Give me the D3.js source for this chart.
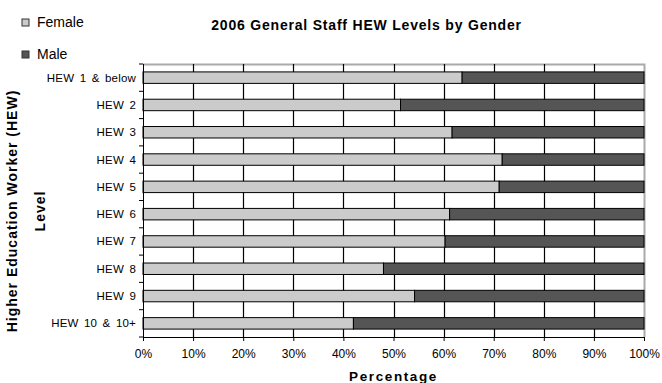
<!DOCTYPE html>
<html>
<head>
<meta charset="utf-8">
<script src="https://cdn.jsdelivr.net/npm/d3@7"></script>
<style>
  body { margin: 0; background: #fff; }
  svg { display: block; font-family: "Liberation Sans", Arial, sans-serif; }
</style>
</head>
<body>
<div id="chart"></div>
<script>
// HEW levels, top to bottom
const levels = ['HEW 1 & below', 'HEW 2', 'HEW 3', 'HEW 4', 'HEW 5',
  'HEW 6', 'HEW 7', 'HEW 8', 'HEW 9', 'HEW 10 & 10+'];

// Percent share of each level
const female = [63.7, 51.4, 61.7, 71.7, 71.1, 61.2, 60.3, 48.0, 54.2, 42.0];
const male = [36.3, 48.6, 38.3, 28.3, 28.9, 38.8, 39.7, 52.0, 45.8, 58.0];

const xTicks = [0, 10, 20, 30, 40, 50, 60, 70, 80, 90, 100];
const seriesNames = ['Female', 'Male'];
const seriesColors = ['#cbcbcb', '#555555'];

const W = 662, H = 383;
const margin = { top: 64, right: 18, bottom: 46, left: 143 };
const width = W - margin.left - margin.right;
const height = H - margin.top - margin.bottom;

const svg = d3.select('#chart')
  .append('svg')
  .attr('width', W)
  .attr('height', H);

const x = d3.scaleLinear().domain([0, 100]).range([margin.left, margin.left + width]);
const y = d3.scaleBand().domain(levels)
  .range([margin.top, margin.top + height])
  .paddingInner(0.58).paddingOuter(0.29);

// Build stacked rows
const rows = levels.map((lv, i) => ({ level: lv, Female: female[i], Male: male[i] }));
const stacked = d3.stack().keys(seriesNames)(rows);

// Plot frame: light gray top and right edges
svg.append('polyline')
  .attr('points', `${x(0)},${margin.top + 0.5} ${x(100) + 0.5},${margin.top + 0.5} ${x(100) + 0.5},${margin.top + height}`)
  .style('fill', 'none')
  .style('stroke', '#aaaaaa')
  .style('stroke-width', '2px');

// Vertical gridlines
svg.append('g')
  .selectAll('line')
  .data(xTicks.slice(1, -1))
  .join('line')
  .attr('x1', d => Math.round(x(d)) + 0.5)
  .attr('x2', d => Math.round(x(d)) + 0.5)
  .attr('y1', margin.top)
  .attr('y2', margin.top + height)
  .style('stroke', '#000000')
  .style('stroke-width', '1.2px');

// Bars
svg.append('g')
  .selectAll('g')
  .data(stacked)
  .join('g')
  .attr('fill', (d, i) => seriesColors[i])
  .selectAll('rect')
  .data(d => d)
  .join('rect')
  .attr('x', d => x(d[0]))
  .attr('y', d => y(d.data.level))
  .attr('width', d => x(d[1]) - x(d[0]))
  .attr('height', y.bandwidth())
  .attr('stroke', '#000')
  .attr('stroke-width', 1);

// X axis
const xAxis = svg.append('g')
  .attr('transform', `translate(0,${margin.top + height})`)
  .call(d3.axisBottom(x).tickValues(xTicks).tickFormat(d => d + '%').tickSize(4).tickSizeOuter(0));
xAxis.selectAll('text')
  .attr('dy', '1.15em')
  .style('font-size', '12px')
  .style('fill', '#000');
xAxis.selectAll('.domain, .tick line').attr('stroke', '#000');

// Y axis: ticks sit on band boundaries
const yAxis = svg.append('g').attr('transform', `translate(${margin.left},${margin.top})`);
yAxis.append('line')
  .attr('x1', 0.5).attr('x2', 0.5).attr('y1', 0).attr('y2', height)
  .attr('stroke', '#000');
const step = y.step();
yAxis.selectAll('.ytick')
  .data(d3.range(levels.length + 1))
  .join('line')
  .attr('class', 'ytick')
  .attr('x1', -4).attr('x2', 0)
  .attr('y1', i => i * step)
  .attr('y2', i => i * step)
  .attr('stroke', '#000');
yAxis.selectAll('.ylab')
  .data(levels)
  .join('text')
  .attr('class', 'ylab')
  .attr('x', -7)
  .attr('y', d => y(d) - margin.top + y.bandwidth() / 2)
  .attr('dy', '0.35em')
  .attr('text-anchor', 'end')
  .style('font-size', '11.5px')
  .style('letter-spacing', '0.2px')
  .style('word-spacing', '2px')
  .text(d => d);

// Title
svg.append('text')
  .attr('x', 366.5)
  .attr('y', 30)
  .attr('text-anchor', 'middle')
  .style('font-size', '14px')
  .style('font-weight', 'bold')
  .style('letter-spacing', '0.8px')
  .text('2006 General Staff HEW Levels by Gender');

// X axis title (sits on the bottom edge, as in the original)
svg.append('text')
  .attr('x', margin.left + width / 2)
  .attr('y', 381)
  .attr('text-anchor', 'middle')
  .style('font-size', '13.5px')
  .style('font-weight', 'bold')
  .style('letter-spacing', '1.6px')
  .text('Percentage');

// Y axis title (two lines)
const yTitle = svg.append('text')
  .attr('transform', 'translate(0,211) rotate(-90)')
  .attr('text-anchor', 'middle')
  .style('font-size', '14px')
  .style('font-weight', 'bold')
  .style('letter-spacing', '1px');
yTitle.append('tspan').attr('x', 0).attr('y', 17).text('Higher Education Worker (HEW)');
yTitle.append('tspan').attr('x', 0).attr('y', 45).text('Level');

// Legend
const legend = svg.append('g')
  .selectAll('g')
  .data(seriesNames)
  .join('g')
  .attr('transform', (d, i) => `translate(22,${19 + i * 32})`);
legend.append('rect')
  .attr('width', 7).attr('height', 7)
  .attr('fill', (d, i) => seriesColors[i])
  .attr('stroke', '#333');
legend.append('text')
  .attr('x', 15)
  .attr('y', 7.5)
  .style('font-size', '14px')
  .text(d => d);
</script>
</body>
</html>
